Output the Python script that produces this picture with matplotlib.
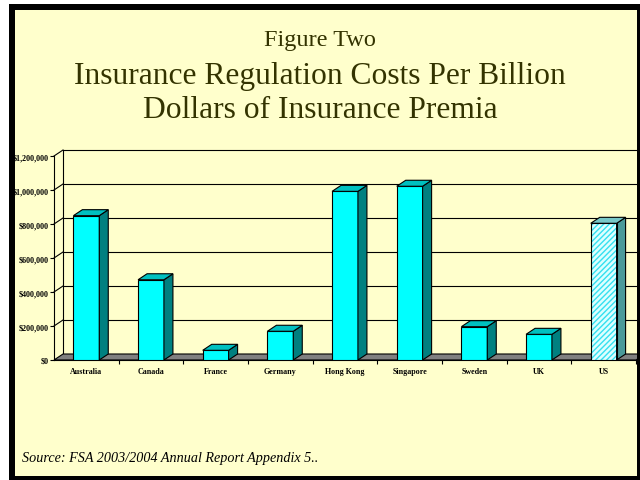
import matplotlib.pyplot as plt
from matplotlib.patches import Rectangle, Polygon

countries = ["Australia", "Canada", "France", "Germany", "Hong Kong",
             "Singapore", "Sweden", "UK", "US"]
costs = [849000, 472000, 57000, 169000, 992000, 1022000, 196000, 151000, 804000]
yticks = [0, 200000, 400000, 600000, 800000, 1000000, 1200000]
ytick_labels = ["$0", "$200,000", "$400,000", "$600,000", "$800,000",
                "$1,000,000", "$1,200,000"]

W, H = 640, 481
bg = "#FFFFCC"
front = "#00FFFF"
side = "#008080"
top = "#00C0C0"

fig = plt.figure(figsize=(W / 100, H / 100), dpi=100)
fig.patch.set_facecolor("white")

# slide background + black frame
fig.add_artist(Rectangle((15 / W, 1 - 477 / H), (637 - 15) / W, (477 - 11) / H,
                         transform=fig.transFigure, facecolor=bg, edgecolor="none", zorder=-1))
frame = [(9, 5, 640, 11), (9, 5, 15, 481), (637, 5, 640, 481), (9, 477, 640, 481)]
for x0, y0, x1, y1 in frame:
    fig.add_artist(Rectangle((x0 / W, 1 - y1 / H), (x1 - x0) / W, (y1 - y0) / H,
                             transform=fig.transFigure, facecolor="black",
                             edgecolor="none", zorder=5))

# titles
tc = "#333300"
fig.text(0.5, 1 - 41 / H, "Figure Two", ha="center", va="center",
         fontsize=17.5, family="Liberation Serif", color=tc)
fig.text(0.5, 1 - 77 / H, "Insurance Regulation Costs Per Billion", ha="center",
         va="center", fontsize=22.7, family="Liberation Serif", color=tc)
fig.text(0.5, 1 - 111 / H, "Dollars of Insurance Premia", ha="center",
         va="center", fontsize=22.7, family="Liberation Serif", color=tc)
fig.text(22 / W, 1 - 459 / H, "Source: FSA 2003/2004 Annual Report Appendix 5..",
         ha="left", va="center", fontsize=10.2, style="italic",
         family="Liberation Serif", color="black")

ax = fig.add_axes([54 / W, 120 / H, 582 / W, 204 / H])
ax.patch.set_visible(False)
n = len(countries)
ax.set_xlim(-0.5, n - 0.5)
ax.set_ylim(0, 1200000)
for s in ["top", "right", "bottom"]:
    ax.spines[s].set_visible(False)
ax.spines["left"].set_linewidth(0.8)

# 3d depth in data units
dx = 9 / 64.7
dy = 6 / 170 * 1000000
lk = dict(color="black", lw=0.8, clip_on=False)

# back wall, side wall grid and floor
ax.plot([-0.5 + dx, -0.5 + dx], [dy, 1200000 + dy], zorder=1, **lk)
for v in yticks[1:]:
    ax.plot([-0.5 + dx, n - 0.5 + dx], [v + dy, v + dy], zorder=1, **lk)
    ax.plot([-0.5, -0.5 + dx], [v, v + dy], zorder=1, **lk)
floor = Polygon([(-0.5, 0), (n - 0.5, 0), (n - 0.5 + dx, dy), (-0.5 + dx, dy)],
                closed=True, facecolor="#808080", edgecolor="black", lw=0.8,
                clip_on=False, zorder=2)
ax.add_patch(floor)
ax.plot([-0.5, n - 0.5], [0, 0], zorder=2.5, **lk)

w = 0.4
for i, (c, h) in enumerate(zip(countries, costs)):
    xl, xr = i - w / 2, i + w / 2
    sc, tcol = side, top
    if c == "US":
        ax.bar(i, h, w, color="#DDFFFF", edgecolor="#33E0F0", hatch="//////",
               lw=0, zorder=3)
        ax.bar(i, h, w, fill=False, edgecolor="black", lw=0.8, zorder=3.1)
        sc, tcol = "#4A9A9A", "#77C8C8"
    else:
        ax.bar(i, h, w, color=front, edgecolor="black", lw=0.8, zorder=3)
    ax.add_patch(Polygon([(xr, 0), (xr + dx, dy), (xr + dx, h + dy), (xr, h)],
                         closed=True, facecolor=sc, edgecolor="black", lw=0.8,
                         clip_on=False, zorder=3))
    ax.add_patch(Polygon([(xl, h), (xl + dx, h + dy), (xr + dx, h + dy), (xr, h)],
                         closed=True, facecolor=tcol, edgecolor="black", lw=0.8,
                         clip_on=False, zorder=3))

tf = dict(family="Liberation Serif", weight="bold", size=5.8)
ax.set_yticks(yticks)
ax.set_yticklabels(ytick_labels, **tf)
ax.tick_params(axis="y", length=3, width=0.8, pad=1)
ax.set_xticks(range(n))
ax.set_xticklabels(countries, **tf)
ax.tick_params(axis="x", which="major", length=0, pad=5)
ax.set_xticks([k - 0.5 for k in range(1, n + 1)], minor=True)
ax.tick_params(axis="x", which="minor", length=3, width=0.8)

fig.savefig("out.png", dpi=100)
